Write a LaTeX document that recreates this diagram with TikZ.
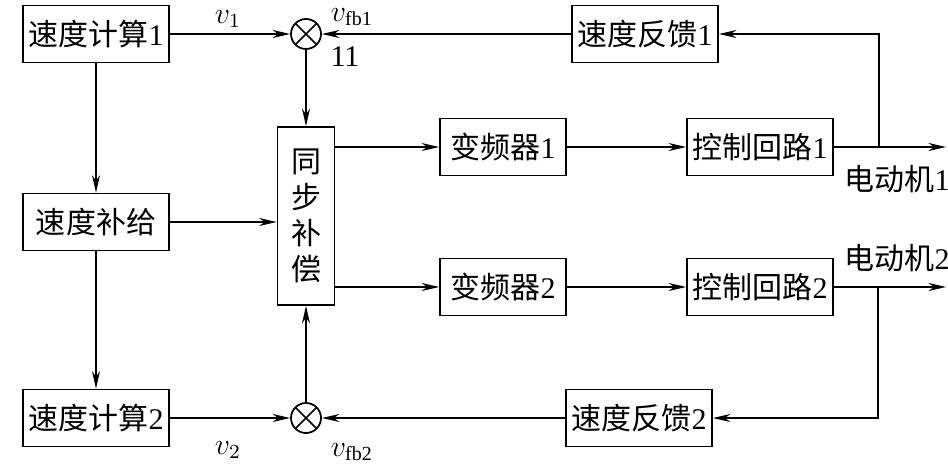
\documentclass[tikz,border=0pt]{standalone}
\usepackage{fontspec}
\setmainfont{Liberation Serif}
\newfontfamily\cjk{Noto Sans CJK SC}
\usetikzlibrary{arrows.meta}

\begin{document}
\begin{tikzpicture}[x=0.4pt,y=0.4pt,line width=0.7pt]
	\tikzset{>={Stealth[length=7pt,width=3.2pt,inset=2.2pt]}}
	\tikzset{blk/.style={draw,minimum width=58.4pt,minimum height=22.8pt,inner sep=1pt,font=\fontsize{12}{14.4}\selectfont}}
	\tikzset{lbl/.style={inner sep=1pt,font=\fontsize{12}{14.4}\selectfont}}
	\tikzset{sum/.style={draw,circle,minimum size=12pt,inner sep=0pt,
		path picture={\draw (path picture bounding box.north west)--(path picture bounding box.south east)
			(path picture bounding box.south west)--(path picture bounding box.north east);}}}
	\useasboundingbox (0,0) rectangle (948,468);

	\node[blk] (C1) at (96,434) {{\cjk 速度计算}1};
	\node[sum] (S1) at (306,434) {};
	\node[blk] (F1) at (645,434) {{\cjk 速度反馈}1};
	\node[blk] (G) at (96,246) {\cjk 速度补给};
	\node[blk,minimum width=22.8pt,minimum height=71.2pt,align=center] (T) at (306,252) {\cjk 同\\\cjk 步\\\cjk 补\\\cjk 偿};
	\node[blk,minimum width=50.4pt] (I1) at (503,321) {{\cjk 变频器}1};
	\node[blk] (K1) at (760,321) {{\cjk 控制回路}1};
	\node[blk,minimum width=50.4pt] (I2) at (503,181) {{\cjk 变频器}2};
	\node[blk] (K2) at (760,181) {{\cjk 控制回路}2};
	\node[blk] (F2) at (639,50) {{\cjk 速度反馈}2};
	\node[sum] (S2) at (306,50) {};
	\node[blk] (C2) at (96,50) {{\cjk 速度计算}2};

	\coordinate (M1) at (946,321);
	\coordinate (M2) at (946,181);
	\coordinate (B1) at (879,321);
	\coordinate (B2) at (878,181);

	\draw[->] (C1) -- (S1);
	\draw[->] (F1) -- (S1);
	\draw[->] (S1) -- (S1 |- T.north);
	\draw[->] (C1) -- (G);
	\draw[->] (G) -- (G -| T.west);
	\draw[->,line width=0.5pt] (G) -- (C2);
	\draw[->] (T.east |- I1) -- (I1);
	\draw[->] (T.east |- I2) -- (I2);
	\draw[->] (I1) -- (K1);
	\draw[->] (I2) -- (K2);
	\draw[->] (K1) -- (M1);
	\draw[->] (K2) -- (M2);
	\draw[->] (B1) |- (F1);
	\draw[->] (B2) |- (F2);
	\draw[->] (C2) -- (S2);
	\draw[->] (F2) -- (S2);
	\draw[->] (S2) -- (S2 |- T.south);

	\node[lbl] (V1) at (228,449) {$v_1$};
	\node[lbl] (VF1) at (352,451) {$v_{\mathrm{fb1}}$};
	\node[lbl] (N11) at (345,411) {11};
	\node[lbl] (V2) at (228,18) {$v_2$};
	\node[lbl] (VF2) at (352,16) {$v_{\mathrm{fb2}}$};
	\node[lbl] (E1) at (897,289) {{\cjk 电动机}1};
	\node[lbl] (E2) at (897,210) {{\cjk 电动机}2};
\end{tikzpicture}
\end{document}
